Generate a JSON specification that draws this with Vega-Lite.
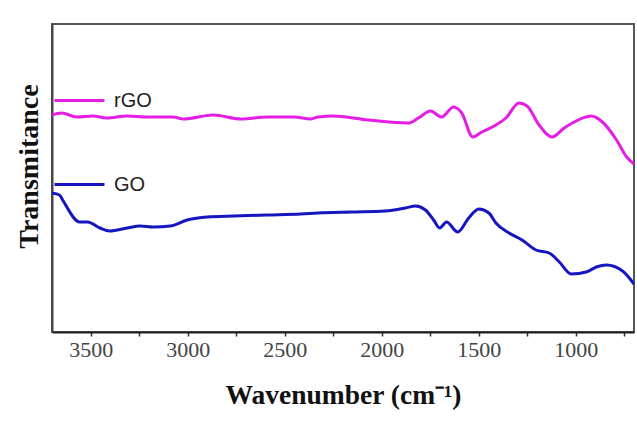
{
  "$schema": "https://vega.github.io/schema/vega-lite/v6.json",
  "width": 582,
  "height": 308,
  "autosize": "none",
  "padding": {"left": 52, "top": 24, "right": 3, "bottom": 91},
  "background": "white",
  "config": {
    "view": {"stroke": "#555", "strokeWidth": 2},
    "legend": {"padding": 0}
  },
  "data": {
    "values": [
      {"series": "rGO", "wn": 3700, "t": 217},
      {"series": "rGO", "wn": 3650, "t": 219},
      {"series": "rGO", "wn": 3573, "t": 215},
      {"series": "rGO", "wn": 3490, "t": 216},
      {"series": "rGO", "wn": 3417, "t": 214},
      {"series": "rGO", "wn": 3313, "t": 216},
      {"series": "rGO", "wn": 3210, "t": 215},
      {"series": "rGO", "wn": 3075, "t": 215},
      {"series": "rGO", "wn": 3023, "t": 213},
      {"series": "rGO", "wn": 2868, "t": 217},
      {"series": "rGO", "wn": 2728, "t": 213},
      {"series": "rGO", "wn": 2588, "t": 215},
      {"series": "rGO", "wn": 2453, "t": 215},
      {"series": "rGO", "wn": 2365, "t": 213},
      {"series": "rGO", "wn": 2329, "t": 215},
      {"series": "rGO", "wn": 2251, "t": 216},
      {"series": "rGO", "wn": 2070, "t": 212},
      {"series": "rGO", "wn": 1863, "t": 209},
      {"series": "rGO", "wn": 1811, "t": 214},
      {"series": "rGO", "wn": 1749, "t": 221},
      {"series": "rGO", "wn": 1692, "t": 215},
      {"series": "rGO", "wn": 1630, "t": 225},
      {"series": "rGO", "wn": 1588, "t": 219},
      {"series": "rGO", "wn": 1531, "t": 195},
      {"series": "rGO", "wn": 1484, "t": 200},
      {"series": "rGO", "wn": 1412, "t": 207},
      {"series": "rGO", "wn": 1360, "t": 214},
      {"series": "rGO", "wn": 1293, "t": 229},
      {"series": "rGO", "wn": 1251, "t": 226},
      {"series": "rGO", "wn": 1189, "t": 207},
      {"series": "rGO", "wn": 1122, "t": 195},
      {"series": "rGO", "wn": 1060, "t": 204},
      {"series": "rGO", "wn": 1018, "t": 209},
      {"series": "rGO", "wn": 920, "t": 216},
      {"series": "rGO", "wn": 863, "t": 210},
      {"series": "rGO", "wn": 790, "t": 192},
      {"series": "rGO", "wn": 738, "t": 175},
      {"series": "rGO", "wn": 700, "t": 168},
      {"series": "GO", "wn": 3700, "t": 139},
      {"series": "GO", "wn": 3661, "t": 137},
      {"series": "GO", "wn": 3645, "t": 132},
      {"series": "GO", "wn": 3557, "t": 110},
      {"series": "GO", "wn": 3516, "t": 110},
      {"series": "GO", "wn": 3453, "t": 104},
      {"series": "GO", "wn": 3402, "t": 101},
      {"series": "GO", "wn": 3313, "t": 104},
      {"series": "GO", "wn": 3246, "t": 106},
      {"series": "GO", "wn": 3179, "t": 105},
      {"series": "GO", "wn": 3091, "t": 106},
      {"series": "GO", "wn": 3003, "t": 112},
      {"series": "GO", "wn": 2899, "t": 115},
      {"series": "GO", "wn": 2764, "t": 116},
      {"series": "GO", "wn": 2588, "t": 117},
      {"series": "GO", "wn": 2417, "t": 118},
      {"series": "GO", "wn": 2329, "t": 119},
      {"series": "GO", "wn": 2158, "t": 120},
      {"series": "GO", "wn": 1982, "t": 121},
      {"series": "GO", "wn": 1878, "t": 124},
      {"series": "GO", "wn": 1826, "t": 126},
      {"series": "GO", "wn": 1775, "t": 122},
      {"series": "GO", "wn": 1733, "t": 112},
      {"series": "GO", "wn": 1702, "t": 104},
      {"series": "GO", "wn": 1666, "t": 110},
      {"series": "GO", "wn": 1609, "t": 100},
      {"series": "GO", "wn": 1552, "t": 114},
      {"series": "GO", "wn": 1500, "t": 123},
      {"series": "GO", "wn": 1448, "t": 119},
      {"series": "GO", "wn": 1412, "t": 109},
      {"series": "GO", "wn": 1344, "t": 99},
      {"series": "GO", "wn": 1277, "t": 92},
      {"series": "GO", "wn": 1205, "t": 82},
      {"series": "GO", "wn": 1137, "t": 79},
      {"series": "GO", "wn": 1085, "t": 70},
      {"series": "GO", "wn": 1023, "t": 58},
      {"series": "GO", "wn": 946, "t": 60},
      {"series": "GO", "wn": 894, "t": 65},
      {"series": "GO", "wn": 842, "t": 67},
      {"series": "GO", "wn": 759, "t": 61},
      {"series": "GO", "wn": 700, "t": 48}
    ]
  },
  "mark": {"type": "line", "strokeWidth": 3, "interpolate": "monotone"},
  "encoding": {
    "x": {
      "field": "wn",
      "type": "quantitative",
      "scale": {"domain": [3700, 700], "nice": false, "zero": false},
      "axis": {
        "title": "Wavenumber (cm⁻¹)",
        "titleFont": "Liberation Serif",
        "titleFontWeight": "bold",
        "titleFontSize": 27.5,
        "titleColor": "#111",
        "titleBaseline": "alphabetic",
        "titleY": 71,
        "values": [3500, 3250, 3000, 2750, 2500, 2250, 2000, 1750, 1500, 1250, 1000, 750],
        "labelExpr": "datum.value % 500 == 0 ? datum.label : ''",
        "format": "d",
        "labelFont": "Liberation Serif",
        "labelFontSize": 22,
        "labelColor": "#444",
        "labelPadding": 3,
        "tickSize": 4,
        "tickColor": "#333",
        "tickWidth": 1.5,
        "domainColor": "#222",
        "domainWidth": 2,
        "grid": false
      }
    },
    "y": {
      "field": "t",
      "type": "quantitative",
      "scale": {"domain": [0, 308], "nice": false, "zero": false},
      "axis": {
        "title": "Transmitance",
        "titleFont": "Liberation Serif",
        "titleFontWeight": "bold",
        "titleFontSize": 28,
        "titleColor": "#111",
        "titleBaseline": "alphabetic",
        "titleX": -15,
        "titleY": 142,
        "labels": false,
        "ticks": false,
        "grid": false,
        "domainColor": "#444",
        "domainWidth": 2
      }
    },
    "color": {
      "field": "series",
      "type": "nominal",
      "scale": {"domain": ["rGO", "GO"], "range": ["#e41ee4", "#1616c0"]},
      "legend": {
        "title": null,
        "orient": "none",
        "legendX": 1,
        "legendY": 50,
        "symbolType": "stroke",
        "symbolSize": 2500,
        "symbolStrokeWidth": 3,
        "labelFont": "Liberation Sans",
        "labelFontSize": 20,
        "labelColor": "#222",
        "labelOffset": 8,
        "rowPadding": 47
      }
    }
  }
}
